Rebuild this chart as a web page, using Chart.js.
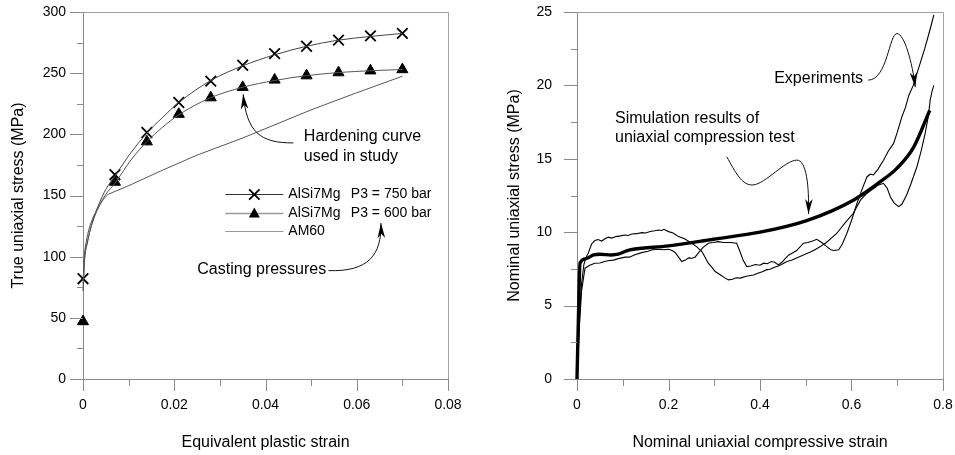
<!DOCTYPE html>
<html><head><meta charset="utf-8">
<script src="https://cdn.jsdelivr.net/npm/chart.js@4/dist/chart.umd.min.js"></script>
<style>
html,body{margin:0;padding:0;background:#fff;}
#wrap{position:relative;width:955px;height:455px;overflow:hidden;}
#c1{position:absolute;left:0;top:0;}
#c2{position:absolute;left:480px;top:0;}
</style></head><body>
<div id="wrap">
<canvas id="c1" width="480" height="455"></canvas>
<canvas id="c2" width="475" height="455"></canvas>
</div>
<script>
// ---------- LEFT CHART DATA ----------
const markerStrain = [0, 0.007, 0.014, 0.021, 0.028, 0.035, 0.042, 0.049, 0.056, 0.063, 0.07];
const p750Markers  = [82, 167, 201.5, 226, 243.5, 256.5, 266, 272, 277, 280.5, 282.5];
const p600Markers  = [47, 161, 194, 216.5, 230, 238.5, 244.5, 248, 250.5, 252, 253];

const alCurveStrain = [0, 0.0003, 0.001, 0.002, 0.0035, 0.005, 0.007, 0.0105, 0.014, 0.0175, 0.021, 0.028, 0.035, 0.042, 0.049, 0.056, 0.063, 0.07];
const p750Curve     = [72, 95, 112, 128, 143, 155, 166, 185, 201, 214, 226, 244, 256, 265, 272, 277, 280, 282.5];
const p600Curve     = [78, 98, 113, 127, 141, 151, 160, 179, 194, 206, 216, 230, 238.5, 244, 248, 250.5, 252, 253];

const am60Strain = [0, 0.0002, 0.0005, 0.001, 0.0015, 0.0022, 0.003, 0.0038, 0.0045, 0.0055, 0.01, 0.017, 0.025, 0.035, 0.05, 0.06, 0.07];
const am60Stress = [85, 98, 108, 118, 125, 132, 138, 143, 147, 151, 158, 170, 183, 197, 220, 234, 247.5];

const leftXTicks = [0, 0.02, 0.04, 0.06, 0.08];
const leftYTicks = [0, 50, 100, 150, 200, 250, 300];

// ---------- RIGHT CHART DATA ----------
const simStrain = [0, 0.003, 0.0066, 0.02, 0.036, 0.05, 0.075, 0.09, 0.11, 0.123, 0.2, 0.298, 0.4, 0.502, 0.605, 0.663, 0.699, 0.736, 0.771];
const simStress = [0, 4, 7.9, 8.2, 8.45, 8.5, 8.45, 8.5, 8.75, 8.84, 9.07, 9.52, 10.0, 10.79, 12.2, 13.44, 14.35, 15.8, 18.3];

const expAStrain = [0, 0.005, 0.01, 0.015, 0.02, 0.025, 0.032, 0.039, 0.046, 0.054, 0.061, 0.068, 0.076, 0.085, 0.095, 0.105, 0.112, 0.12, 0.13, 0.1415, 0.15, 0.16, 0.17, 0.178, 0.185, 0.19, 0.2, 0.21, 0.222, 0.235, 0.251, 0.262, 0.273, 0.28, 0.287, 0.295, 0.302, 0.313, 0.324, 0.331, 0.34, 0.348, 0.357, 0.37, 0.386, 0.395, 0.405, 0.415, 0.422, 0.43, 0.44, 0.45, 0.459, 0.47, 0.48, 0.495, 0.51, 0.52, 0.532, 0.545, 0.556, 0.568, 0.585, 0.604, 0.62, 0.632, 0.645, 0.658, 0.67, 0.678, 0.685, 0.693, 0.703, 0.71, 0.72, 0.73, 0.743, 0.752, 0.761, 0.768, 0.772, 0.776, 0.78];
const expAStress = [0, 4, 6.5, 7.8, 8.3, 8.6, 9.2, 9.43, 9.5, 9.4, 9.55, 9.66, 9.6, 9.7, 9.75, 9.81, 9.78, 9.88, 9.9, 9.97, 9.95, 10.05, 10.1, 10.15, 10.12, 10.2, 10.04, 9.95, 9.7, 9.55, 9.25, 9.0, 8.68, 8.3, 7.89, 7.6, 7.32, 7.1, 6.87, 6.75, 6.8, 6.9, 6.87, 7.0, 7.09, 7.2, 7.3, 7.45, 7.48, 7.6, 7.7, 7.85, 8.0, 8.1, 8.25, 8.45, 8.65, 8.8, 9.02, 9.3, 9.6, 9.93, 10.6, 11.29, 12.2, 12.6, 12.9, 13.2, 13.33, 13.0, 12.4, 12.0, 11.74, 11.9, 12.5, 13.3, 14.46, 15.5, 16.73, 17.9, 19.0, 19.6, 20.0];

const expBStrain = [0, 0.005, 0.01, 0.0175, 0.028, 0.039, 0.05, 0.06, 0.068, 0.08, 0.09, 0.105, 0.115, 0.125, 0.1415, 0.155, 0.165, 0.178, 0.19, 0.2, 0.208, 0.215, 0.222, 0.229, 0.237, 0.244, 0.251, 0.258, 0.265, 0.275, 0.287, 0.298, 0.309, 0.32, 0.335, 0.349, 0.356, 0.363, 0.371, 0.38, 0.39, 0.4, 0.408, 0.416, 0.425, 0.432, 0.44, 0.448, 0.455, 0.463, 0.47, 0.48, 0.495, 0.505, 0.515, 0.524, 0.535, 0.546, 0.555, 0.561, 0.572, 0.58, 0.59, 0.6, 0.612, 0.624, 0.634, 0.641, 0.648, 0.658, 0.67, 0.68, 0.692, 0.7, 0.71, 0.718, 0.725, 0.735, 0.75, 0.76, 0.769, 0.775, 0.78];
const expBStress = [0, 3.5, 6, 7.55, 7.75, 7.89, 7.9, 8.0, 8.05, 8.1, 8.2, 8.3, 8.3, 8.45, 8.61, 8.7, 8.8, 8.84, 8.8, 8.84, 8.75, 8.6, 8.3, 8.0, 8.1, 8.25, 8.23, 8.3, 8.57, 8.95, 9.25, 9.3, 9.36, 9.3, 9.3, 9.25, 8.7, 8.1, 7.66, 7.7, 7.8, 7.75, 7.89, 7.85, 8.0, 7.95, 7.77, 7.95, 8.2, 8.45, 8.57, 8.75, 9.25, 9.3, 9.4, 9.52, 9.3, 9.02, 8.8, 8.75, 8.8, 9.2, 9.93, 10.8, 11.97, 13.0, 13.78, 13.95, 13.9, 14.3, 14.9, 15.5, 16.05, 16.8, 17.86, 18.5, 19.3, 20.0, 21.5, 22.5, 23.5, 24.2, 24.8];

const rightXTicks = [0, 0.2, 0.4, 0.6, 0.8];
const rightYTicks = [0, 5, 10, 15, 20, 25];

// ---------- HELPERS ----------
const FONT = "'Liberation Sans', Arial, Helvetica, sans-serif";
function pts(xs, ys) { return xs.map((x, i) => ({x: x, y: ys[i]})); }

function axis(ticks, title, tickGap, titlePad, isX, size) {
  return {
    type: 'linear', min: ticks[0], max: ticks[ticks.length - 1],
    grid: {display: true, drawOnChartArea: false, drawTicks: true, tickLength: tickGap, tickColor: 'rgba(0,0,0,0)', color: 'rgba(0,0,0,0)'},
    border: {display: true, color: '#8a8a8a', width: 1},
    afterBuildTicks: s => { s.ticks = ticks.map(v => ({value: v})); },
    afterFit: s => { if (isX) s.height = size; else s.width = size; },
    ticks: {color: '#000', font: {family: FONT, size: 14}, padding: 0, maxRotation: 0, autoSkip: false,
            callback: v => String(v)},
    title: {display: true, text: title, color: '#000', font: {family: FONT, size: 16}, padding: titlePad}
  };
}

function drawArrow(ctx, sx, sy, seg) {
  const p = seg.map(q => [sx.getPixelForValue(q[0]), sy.getPixelForValue(q[1])]);
  ctx.strokeStyle = '#111'; ctx.lineWidth = 1;
  ctx.beginPath(); ctx.moveTo(p[0][0], p[0][1]);
  for (let i = 1; i + 2 < p.length; i += 3) ctx.bezierCurveTo(p[i][0], p[i][1], p[i+1][0], p[i+1][1], p[i+2][0], p[i+2][1]);
  ctx.stroke();
  const tip = p[p.length - 1], prev = p[p.length - 2];
  const a = Math.atan2(tip[1] - prev[1], tip[0] - prev[0]);
  const L = 15, W = 3.8;
  const bx = tip[0] - L * Math.cos(a), by = tip[1] - L * Math.sin(a);
  const nx = tip[0] - 0.72 * L * Math.cos(a), ny = tip[1] - 0.72 * L * Math.sin(a);
  ctx.fillStyle = '#000';
  ctx.beginPath();
  ctx.moveTo(tip[0], tip[1]);
  ctx.lineTo(bx - W * Math.sin(a), by + W * Math.cos(a));
  ctx.lineTo(nx, ny);
  ctx.lineTo(bx + W * Math.sin(a), by - W * Math.cos(a));
  ctx.closePath(); ctx.fill();
}

function decor(cfg) {
  return {
    id: 'decor',
    afterDraw(chart) {
      const ctx = chart.ctx, a = chart.chartArea, sx = chart.scales.x, sy = chart.scales.y;
      ctx.save();
      // frame top/right
      ctx.strokeStyle = '#a0a0a0'; ctx.lineWidth = 1;
      ctx.beginPath();
      ctx.moveTo(a.left, Math.round(a.top) + 0.5);
      ctx.lineTo(Math.round(a.right) + 0.5, Math.round(a.top) + 0.5);
      ctx.lineTo(Math.round(a.right) + 0.5, a.bottom);
      ctx.stroke();
      // tick marks (major + minor)
      ctx.strokeStyle = '#8a8a8a';
      const xt = cfg.xTicks, yt = cfg.yTicks;
      xt.forEach((v, i) => {
        const px = Math.round(sx.getPixelForValue(v)) + 0.5;
        ctx.beginPath(); ctx.moveTo(px, a.bottom); ctx.lineTo(px, a.bottom + 12); ctx.stroke();
        if (i < xt.length - 1) {
          const pm = Math.round(sx.getPixelForValue((v + xt[i+1]) / 2)) + 0.5;
          ctx.beginPath(); ctx.moveTo(pm, a.bottom); ctx.lineTo(pm, a.bottom + 7); ctx.stroke();
        }
      });
      yt.forEach((v, i) => {
        const py = Math.round(sy.getPixelForValue(v)) + 0.5;
        ctx.beginPath(); ctx.moveTo(a.left, py); ctx.lineTo(a.left - 13, py); ctx.stroke();
        if (i < yt.length - 1) {
          const pm = Math.round(sy.getPixelForValue((v + yt[i+1]) / 2)) + 0.5;
          ctx.beginPath(); ctx.moveTo(a.left, pm); ctx.lineTo(a.left - 6, pm); ctx.stroke();
        }
      });
      // annotation texts
      ctx.fillStyle = '#000'; ctx.textBaseline = 'middle'; ctx.textAlign = 'left';
      (cfg.texts || []).forEach(t => {
        ctx.font = (t.size || 16) + 'px ' + FONT;
        ctx.fillText(t.text, sx.getPixelForValue(t.x), sy.getPixelForValue(t.y));
      });
      (cfg.arrows || []).forEach(seg => drawArrow(ctx, sx, sy, seg));
      // legend
      (cfg.legend || []).forEach(r => {
        const y = Math.round(sy.getPixelForValue(r.y)) + 0.5;
        const x0 = sx.getPixelForValue(r.x0), x1 = sx.getPixelForValue(r.x1), xm = (x0 + x1) / 2;
        ctx.strokeStyle = r.color; ctx.lineWidth = r.width;
        ctx.beginPath(); ctx.moveTo(x0, y); ctx.lineTo(x1, y); ctx.stroke();
        if (r.marker === 'x') {
          const d = 5.2;
          ctx.strokeStyle = '#000'; ctx.lineWidth = 1.8;
          ctx.beginPath(); ctx.moveTo(xm - d, y - d); ctx.lineTo(xm + d, y + d);
          ctx.moveTo(xm - d, y + d); ctx.lineTo(xm + d, y - d); ctx.stroke();
        } else if (r.marker === 'tri') {
          ctx.fillStyle = '#000';
          ctx.beginPath(); ctx.moveTo(xm, y - 6); ctx.lineTo(xm + 5.5, y + 4); ctx.lineTo(xm - 5.5, y + 4); ctx.closePath(); ctx.fill();
        }
        ctx.fillStyle = '#000'; ctx.font = '14px ' + FONT;
        ctx.fillText(r.name, sx.getPixelForValue(r.tx1), y);
        if (r.name2) ctx.fillText(r.name2, sx.getPixelForValue(r.tx2), y);
      });
      ctx.restore();
    }
  };
}

Chart.defaults.font.family = FONT;

// ---------- LEFT CHART ----------
new Chart(document.getElementById('c1'), {
  type: 'scatter',
  data: {datasets: [
    {label: 'AM60', data: pts(am60Strain, am60Stress), showLine: true, pointRadius: 0, borderColor: '#555', borderWidth: 1, tension: 0, clip: false},
    {label: 'AlSi7Mg P3 = 600 bar', data: pts(alCurveStrain, p600Curve), showLine: true, pointRadius: 0, borderColor: '#555', borderWidth: 1, cubicInterpolationMode: 'monotone', clip: false},
    {label: 'AlSi7Mg P3 = 750 bar', data: pts(alCurveStrain, p750Curve), showLine: true, pointRadius: 0, borderColor: '#444', borderWidth: 1, cubicInterpolationMode: 'monotone', clip: false},
    {label: '600 markers', data: pts(markerStrain, p600Markers), showLine: false, pointStyle: 'triangle', pointRadius: 6.4, backgroundColor: '#000', borderColor: '#000', borderWidth: 1, clip: false},
    {label: '750 markers', data: pts(markerStrain, p750Markers), showLine: false, pointStyle: 'crossRot', pointRadius: 7.5, borderColor: '#000', borderWidth: 1.8, clip: false}
  ]},
  options: {
    responsive: false, animation: false, devicePixelRatio: 1,
    layout: {padding: {left: 0, top: 12, right: 32, bottom: 0}},
    plugins: {legend: {display: false}, tooltip: {enabled: false}},
    scales: {
      x: axis(leftXTicks, 'Equivalent plastic strain', 18, {top: 0, bottom: 2.4}, true, 76),
      y: axis(leftYTicks, 'True uniaxial stress (MPa)', 17, {top: 8.7, bottom: 0}, false, 83)
    }
  },
  plugins: [decor({
    xTicks: leftXTicks, yTicks: leftYTicks,
    texts: [
      {text: 'Hardening curve', x: 0.0484, y: 197.9},
      {text: 'used in study', x: 0.0484, y: 182.2},
      {text: 'Casting pressures', x: 0.02505, y: 89.2}
    ],
    arrows: [
      [[0.0461, 193.0], [0.0388, 192.8], [0.0359, 201.8], [0.0351, 232.8]],
      [[0.0538, 88.6], [0.0625, 87.5], [0.0655, 101.3], [0.0653, 127.5]]
    ],
    legend: [
      {y: 151.0, x0: 0.0312, x1: 0.0439, color: '#333', width: 1, marker: 'x', name: 'AlSi7Mg', name2: 'P3 = 750 bar', tx1: 0.045, tx2: 0.0587},
      {y: 136.0, x0: 0.0312, x1: 0.0439, color: '#999', width: 1.6, marker: 'tri', name: 'AlSi7Mg', name2: 'P3 = 600 bar', tx1: 0.045, tx2: 0.0587},
      {y: 121.1, x0: 0.0312, x1: 0.0439, color: '#999', width: 1.2, marker: null, name: 'AM60', tx1: 0.045}
    ]
  })]
});

// ---------- RIGHT CHART ----------
new Chart(document.getElementById('c2'), {
  type: 'scatter',
  data: {datasets: [
    {label: 'Experiment A', data: pts(expAStrain, expAStress), showLine: true, pointRadius: 0, borderColor: '#000', borderWidth: 1.1, tension: 0, clip: false},
    {label: 'Experiment B', data: pts(expBStrain, expBStress), showLine: true, pointRadius: 0, borderColor: '#000', borderWidth: 1.1, tension: 0, clip: false},
    {label: 'Simulation', data: pts(simStrain, simStress), showLine: true, pointRadius: 0, borderColor: '#000', borderWidth: 3.4, cubicInterpolationMode: 'monotone', clip: false}
  ]},
  options: {
    responsive: false, animation: false, devicePixelRatio: 1,
    layout: {padding: {left: 0, top: 12, right: 12, bottom: 0}},
    plugins: {legend: {display: false}, tooltip: {enabled: false}},
    scales: {
      x: axis(rightXTicks, 'Nominal uniaxial compressive strain', 18, {top: 0, bottom: 2.4}, true, 76),
      y: axis(rightYTicks, 'Nominal uniaxial stress (MPa)', 25, {top: 25.4, bottom: 0}, false, 97)
    }
  },
  plugins: [decor({
    xTicks: rightXTicks, yTicks: rightYTicks,
    texts: [
      {text: 'Experiments', x: 0.431, y: 20.47},
      {text: 'Simulation results of', x: 0.0831, y: 17.75},
      {text: 'uniaxial compression test', x: 0.0831, y: 16.43}
    ],
    arrows: [
      [[0.6366, 20.36], [0.6782, 20.36], [0.6826, 23.55], [0.6994, 23.53], [0.7154, 23.52], [0.7329, 21.58], [0.7394, 19.88]],
      [[0.3275, 15.14], [0.3457, 14.10], [0.3610, 13.15], [0.3850, 13.22], [0.4113, 13.28], [0.4551, 14.91], [0.4806, 14.91], [0.5010, 14.91], [0.5076, 13.22], [0.5060, 11.24]]
    ]
  })]
});
</script>
</body></html>
